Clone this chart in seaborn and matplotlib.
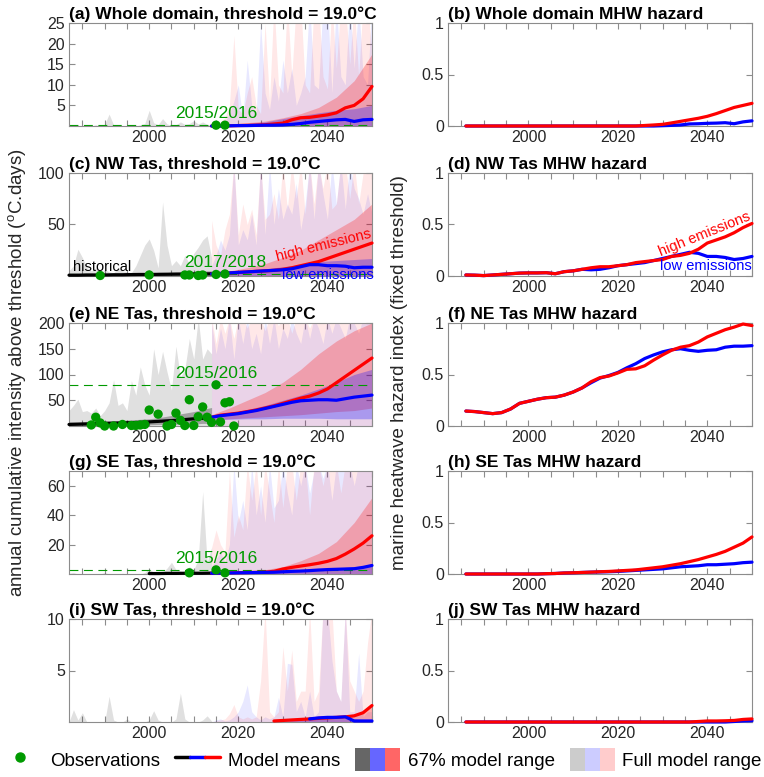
import numpy as np
import matplotlib
matplotlib.use("Agg")
import matplotlib.pyplot as plt
import seaborn as sns
from matplotlib.lines import Line2D
from matplotlib.patches import Patch
from matplotlib.legend_handler import HandlerTuple

sns.set_style("ticks")
plt.rcParams["font.family"] = ["Liberation Sans", "DejaVu Sans"]
plt.rcParams["mathtext.fontset"] = "custom"
plt.rcParams["mathtext.rm"] = "Liberation Sans"

nan = np.nan

# ---------------------------------------------------------
# year grids
# ---------------------------------------------------------
yr_hist = np.arange(1982, 2015)        # full range, historical (annual)
yr_hist2 = np.arange(1982, 2015, 2)    # historical mean / 67% band
yr_proj = np.arange(2014, 2051)        # full range, projections (annual)
yr_proj4 = np.arange(2014, 2051, 4)    # 67% bands, projections
yr_proj2 = np.arange(2014, 2051, 2)    # model means, projections
yr_haz = np.arange(1986, 2051, 2)      # hazard index

# ---------------------------------------------------------
# (a) Whole domain
# ---------------------------------------------------------
a_hist_full = [0, 0, 0, 0, 0, 0, 0.3, 0, 0.4, 2.9, 0.3, 0, 0, 0, 0.2, 0, 0.3, 0.6, 3.8, 0.8,
               0.3, 1.8, 0.5, 0.2, 0.3, 1.0, 0.4, 0.6, 1.3, 0.5, 1.0, 0.4, 0.3]
a_low_full = [0.3, 0.5, 1, 1, 3, 6, 10, 2, 16, 5, 3, 25, 8, 4, 12, 6, 16, 8, 14, 5,
              8, 12, 30, 10, 9, 30, 30, 8, 30, 12, 10, 30, 14, 30, 12, 10, 30]
a_high_full = [0.3, 0.5, 1, 2, 5, 22, 4, 3, 8, 12, 5, 3, 25, 6, 30, 10, 8, 30, 12, 30,
               30, 10, 8, 30, 30, 12, 9, 30, 14, 30, 30, 15, 30, 12, 30, 30, 18]
a_low67_hi = [0.3, 0.4, 0.6, 1, 1.8, 2.5, 3.2, 3.8, 4.2, 5]
a_high67_hi = [0.3, 0.5, 0.8, 1.2, 2, 3, 4.5, 7, 11, 17.5]
a_low_mean = [0, 0, 0.05, 0.1, 0.1, 0.15, 0.2, 0.2, 0.25, 0.4, 0.6, 0.9, 1.1, 1.3, 1.5, 1.6, 1.1, 1.5, 1.6]
a_high_mean = [0, 0, 0.05, 0.1, 0.15, 0.2, 0.3, 0.5, 0.7, 1.5, 2.0, 2.1, 2.4, 2.7, 3.2, 4.4, 5.0, 6.6, 9.6]
a_obs_yr = [2015, 2017]
a_obs = [0.2, 0.2]

# ---------------------------------------------------------
# (c) NW Tas
# ---------------------------------------------------------
c_hist_full = [5, 10, 26, 18, 8, 5, 8, 3, 6, 4, 3, 8, 5, 4, 3, 10, 20, 30, 36, 25,
               8, 72, 30, 10, 15, 10, 20, 12, 22, 28, 35, 39, 18]
c_hist67_hi = [1.5, 2, 2, 2, 2, 2.5, 2.5, 3, 3, 3, 3.5, 3.5, 4, 4, 4.5, 5, 5]
c_hist_mean = [0.8, 0.8, 1, 1, 1, 1.2, 1.2, 1.4, 1.5, 1.5, 1.6, 1.7, 1.8, 1.9, 2, 2, 2.1]
c_low_full = [10, 20, 35, 25, 40, 110, 30, 45, 35, 60, 30, 110, 40, 110, 50, 85, 55, 70, 60, 90,
              45, 70, 110, 55, 110, 80, 55, 110, 70, 110, 65, 110, 85, 75, 60, 80, 60]
c_high_full = [54, 30, 20, 45, 60, 110, 40, 70, 50, 65, 40, 110, 55, 60, 80, 55, 110, 65, 110, 75,
               110, 60, 110, 70, 110, 85, 110, 65, 70, 110, 110, 75, 110, 70, 100, 110, 110]
c_low67_hi = [3, 4, 5, 7, 9, 11, 14, 15, 16, 17]
c_high67_hi = [3, 5, 8, 12, 18, 25, 35, 45, 55, 70]
c_low_mean = [2, 2.5, 3, 3.5, 4, 4.5, 5, 5.5, 6, 7, 9, 11, 11, 10, 10, 9.5, 8, 8.5, 8.5]
c_high_mean = [2, 2.5, 3, 3.5, 4, 4.5, 5, 5.5, 6.5, 8, 10, 12, 14, 17, 20, 23, 26, 29, 32]
c_obs_yr = [1989, 2000, 2008, 2009, 2011, 2012, 2015, 2017]
c_obs = [0.5, 1, 1, 1, 0.5, 1, 1.5, 2]

# ---------------------------------------------------------
# (e) NE Tas
# ---------------------------------------------------------
e_hist_full = [30, 40, 52, 28, 30, 25, 35, 20, 30, 45, 90, 40, 45, 30, 88, 60, 115, 80, 60, 150,
               100, 145, 105, 70, 155, 95, 110, 170, 130, 210, 130, 150, 140]
e_hist67_lo = [1, 1, 1, 1, 1.5, 1.5, 2, 2, 2, 2.5, 3, 3, 3.5, 4, 4, 5, 5]
e_hist67_hi = [8, 8, 9, 9, 10, 10, 11, 12, 13, 14, 16, 19, 22, 25, 28, 32, 36]
e_hist_mean = [3, 3.5, 4, 4.5, 5, 5.5, 6, 6.5, 7, 8, 9, 10, 11, 12.5, 14, 15, 16.5]
e_low_full = [200, 140, 190, 150, 210, 130, 210, 160, 210, 150, 180, 140, 210, 160, 210, 150, 190, 170, 210, 180,
              160, 210, 170, 210, 190, 160, 210, 180, 210, 190, 170, 210, 200, 180, 210, 210, 210]
e_high_full = [210, 160, 210, 180, 210, 170, 210, 210, 190, 210, 200, 210, 185, 210, 210, 195, 210, 210, 180, 210,
               210, 210, 190, 210, 210, 210, 210, 200, 210, 210, 210, 210, 210, 210, 210, 210, 210]
e_low67_lo = [12, 13, 14, 14, 15, 15, 15, 14, 14, 14]
e_low67_hi = [20, 25, 32, 40, 50, 60, 72, 85, 100, 110]
e_high67_lo = [12, 14, 16, 18, 20, 22, 25, 28, 30, 35]
e_high67_hi = [22, 35, 50, 65, 85, 110, 140, 165, 185, 200]
e_low_mean = [17, 20, 22, 24, 27, 30, 34, 38, 42, 46, 49, 50, 51, 51, 50, 53, 56, 58, 60]
e_high_mean = [17, 21, 23, 25, 28, 31, 35, 39, 44, 49, 54, 58, 64, 72, 84, 96, 108, 120, 132]
e_obs_yr = [1987, 1988, 1989, 1990, 1992, 1994, 1996, 1997, 1998, 1999, 2000, 2002, 2004, 2005, 2006, 2007,
            2008, 2009, 2010, 2011, 2012, 2013, 2014, 2015, 2016, 2017, 2018, 2019]
e_obs = [2, 17, 6, 0, 0, 3, 1, 1, 2, 3, 31, 23, 0, 3, 25, 11,
         1, 51, 1, 18, 37, 17, 7, 80, 8, 45, 47, 0]

# ---------------------------------------------------------
# (g) SE Tas
# ---------------------------------------------------------
g_hist_full = [0.5, 1, 0, 0, 0, 0, 0, 0, 1, 0, 0, 0, 0.5, 0, 0, 0, 0, 1, 3.6, 1,
               0, 1, 4, 8, 3, 2, 1, 5, 3, 10, 56, 8, 18]
g_hist_mean = [nan, nan, nan, nan, nan, nan, nan, nan, nan, 0.3, 0.3, 0.4, 0.4, 0.5, 0.5, 0.5, 0.6]
g_low_full = [5, 10, 15, 8, 20, 75, 35, 50, 30, 75, 40, 60, 35, 75, 45, 50, 75, 55, 40, 75,
              60, 75, 55, 70, 75, 65, 75, 50, 75, 70, 75, 75, 60, 75, 75, 75, 75]
g_high_full = [18, 30, 20, 15, 70, 25, 40, 30, 75, 50, 75, 40, 75, 55, 35, 75, 45, 75, 75, 50,
               75, 75, 40, 75, 75, 60, 75, 75, 75, 55, 75, 75, 75, 75, 75, 75, 75]
g_low67_hi = [1, 1, 1.5, 2, 2.5, 3, 3.5, 4, 5, 6]
g_high67_hi = [1, 1.5, 2, 3, 5, 9, 14, 22, 35, 52]
g_low_mean = [0.5, 0.6, 0.7, 0.8, 0.9, 1, 1.1, 1.2, 1.5, 1.8, 2, 2.3, 2.7, 3, 3.2, 3.4, 3.6, 4.5, 5.8]
g_high_mean = [0.5, 0.6, 0.8, 0.9, 1, 1.1, 1.3, 1.8, 3.4, 4.5, 5.4, 6.3, 7.3, 8.6, 10.5, 13.5, 17, 21, 26]
g_obs_yr = [2009, 2015, 2017]
g_obs = [0.8, 2.8, 0.8]

# ---------------------------------------------------------
# (i) SW Tas
# ---------------------------------------------------------
i_hist_full = [0, 1.2, 0.2, 0.9, 0, 0, 0, 0, 0, 2.5, 0.2, 0, 0, 0.3, 0, 0, 0, 0, 0.2, 1.1,
               0.2, 0, 0, 0, 0.3, 2.8, 0.3, 0, 0, 0, 0.2, 0.6, 0.1]
i_low_full = [0, 0.2, 0.3, 0.1, 0.2, 0.5, 1, 2, 3.6, 1, 0.5, 0.2, 0.5, 0.3, 0.5, 2.4, 0.5, 5.7, 5.6, 1,
              2, 0.5, 3, 0.5, 1, 11, 11, 6, 3, 2, 11, 1, 1, 6.7, 0.5, 1, 1]
i_high_full = [0, 0.1, 0.2, 0.3, 0.8, 1.7, 0.5, 0.3, 0.5, 0.3, 0.5, 4, 11, 1, 0.5, 1, 7.3, 3, 7, 2,
               3, 3, 11, 2, 3, 11, 11, 11, 3, 2, 11, 4, 3, 2, 3, 7.7, 11]
i_low67_hi = [0, 0, 0, 0, 0.1, 0.2, 0.3, 0.4, 0.3, 0.2]
i_high67_hi = [0, 0, 0, 0, 0.1, 0.2, 0.3, 0.4, 0.6, 1.5]
i_low_mean = [nan, nan, nan, nan, nan, nan, nan, nan, nan, nan, nan, 0.3, 0.4, 0.45, 0.45, 0.5, 0.1, 0.1, 0.1]
i_high_mean = [nan, nan, nan, nan, nan, nan, nan, 0.1, 0.15, 0.2, 0.25, 0.3, 0.35, 0.4, 0.45, 0.5, 0.6, 0.9, 1.6]

# ---------------------------------------------------------
# hazard index (right column), 1986-2050 every 2 years
# ---------------------------------------------------------
b_low = [0, 0, 0, 0, 0, 0, 0, 0, 0, 0, 0, 0, 0, 0, 0, 0, 0, 0, 0, 0,
         0, 0, 0.003, 0.006, 0.01, 0.02, 0.022, 0.026, 0.028, 0.032, 0.022, 0.04, 0.05]
b_high = [0, 0, 0, 0, 0, 0, 0, 0, 0, 0, 0, 0, 0, 0, 0, 0, 0, 0, 0, 0,
          0.005, 0.01, 0.016, 0.03, 0.045, 0.06, 0.075, 0.094, 0.12, 0.15, 0.18, 0.2, 0.22]
d_low = [0.01, 0.008, 0.004, 0.01, 0.016, 0.022, 0.028, 0.03, 0.03, 0.032, 0.022, 0.042, 0.05, 0.065,
         0.06, 0.065, 0.08, 0.1, 0.11, 0.12, 0.13, 0.15, 0.17, 0.19, 0.21, 0.23, 0.22, 0.19, 0.19,
         0.18, 0.16, 0.17, 0.19]
d_high = [0.01, 0.008, 0.004, 0.01, 0.016, 0.022, 0.028, 0.03, 0.03, 0.032, 0.022, 0.042, 0.05, 0.065,
          0.08, 0.09, 0.09, 0.1, 0.11, 0.13, 0.14, 0.15, 0.16, 0.19, 0.2, 0.22, 0.26, 0.32, 0.35,
          0.38, 0.42, 0.47, 0.51]
f_low = [0.145, 0.14, 0.13, 0.12, 0.13, 0.165, 0.22, 0.24, 0.26, 0.275, 0.28, 0.3, 0.33, 0.37,
         0.42, 0.465, 0.49, 0.52, 0.565, 0.605, 0.655, 0.69, 0.72, 0.74, 0.75, 0.735, 0.725, 0.735,
         0.74, 0.765, 0.775, 0.775, 0.78]
f_high = [0.145, 0.14, 0.13, 0.12, 0.13, 0.165, 0.22, 0.24, 0.26, 0.275, 0.28, 0.3, 0.33, 0.37,
          0.43, 0.47, 0.485, 0.515, 0.55, 0.555, 0.585, 0.64, 0.69, 0.735, 0.765, 0.78, 0.815, 0.865,
          0.9, 0.935, 0.96, 0.99, 0.975]
h_low = [0, 0, 0, 0, 0, 0, 0, 0, 0, 0.003, 0.005, 0.01, 0.012, 0.015, 0.018, 0.02, 0.022, 0.025,
         0.03, 0.035, 0.04, 0.045, 0.05, 0.06, 0.07, 0.075, 0.08, 0.09, 0.09, 0.095, 0.1, 0.11, 0.115]
h_high = [0, 0, 0, 0, 0, 0, 0, 0, 0, 0.003, 0.005, 0.01, 0.012, 0.015, 0.018, 0.022, 0.025, 0.03,
          0.035, 0.04, 0.05, 0.06, 0.07, 0.085, 0.1, 0.12, 0.14, 0.165, 0.19, 0.22, 0.26, 0.3, 0.36]
j_low = [0, 0, 0, 0, 0, 0, 0, 0, 0, 0, 0, 0, 0, 0, 0, 0, 0, 0, 0, 0,
         0, 0, 0, 0, 0, 0, 0, 0, 0, 0, 0.005, 0.01, 0.012]
j_high = [0, 0, 0, 0, 0, 0, 0, 0, 0, 0, 0, 0, 0, 0, 0, 0, 0, 0, 0, 0,
          0, 0, 0, 0, 0, 0, 0.005, 0.01, 0.01, 0.012, 0.015, 0.025, 0.03]

GREEN = "#009a00"
RED = "#ff0000"
BLUE = "#0000ff"
SPINE = "#8c8c8c"
TXT = "#262626"


def style_axes(ax, ymax, yticks, ylabels):
    ax.set_xlim(1982, 2050)
    ax.set_ylim(0, ymax)
    xt = np.arange(1985, 2051, 5)
    ax.set_xticks(xt)
    ax.set_xticklabels([str(y) if y in (2000, 2020, 2040) else "" for y in xt])
    ax.set_yticks(yticks)
    ax.set_yticklabels(ylabels)
    ax.tick_params(direction="in", length=4, width=0.8, top=True, right=True,
                   colors=SPINE, labelcolor=TXT, labelsize=11.5, pad=3)
    for s in ax.spines.values():
        s.set_visible(True)
        s.set_color(SPINE)
        s.set_linewidth(0.8)
    ax.set_xlabel("")
    ax.set_ylabel("")


def draw_left(ax, title, ymax, yticks, hist_full, low_full, high_full,
              low67_hi, high67_hi, low_mean, high_mean,
              hist67_lo=None, hist67_hi=None, hist_mean=None,
              low67_lo=0, high67_lo=0,
              obs_yr=None, obs=None, event=None):
    # full model range
    ax.fill_between(yr_hist, 0, hist_full, color="k", alpha=0.12, lw=0, zorder=1)
    ax.fill_between(yr_proj, 0, low_full, color=BLUE, alpha=0.09, lw=0, zorder=1)
    ax.fill_between(yr_proj, 0, high_full, color=RED, alpha=0.09, lw=0, zorder=1)
    # 67% model range
    if hist67_hi is not None:
        lo = 0 if hist67_lo is None else hist67_lo
        ax.fill_between(yr_hist2, lo, hist67_hi, color="k", alpha=0.28, lw=0, zorder=1.5)
    ax.fill_between(yr_proj4, high67_lo, high67_hi, color=RED, alpha=0.25, lw=0, zorder=1.5)
    ax.fill_between(yr_proj4, low67_lo, low67_hi, color=BLUE, alpha=0.27, lw=0, zorder=1.5)
    # observed event level
    if event is not None:
        ev_yr, ev_val, ev_lab = event
        ax.axhline(ev_val, color=GREEN, lw=0.8, ls=(0, (8, 5)), zorder=2)
        ax.annotate(ev_lab, (ev_yr, ev_val), xytext=(0, 3), textcoords="offset points",
                    ha="center", va="bottom", color=GREEN, fontsize=12.5, zorder=6)
    # model means
    if hist_mean is not None:
        sns.lineplot(x=yr_hist2, y=hist_mean, ax=ax, color="k", lw=2.3, zorder=3, clip_on=False)
    sns.lineplot(x=yr_proj2, y=high_mean, ax=ax, color=RED, lw=2.3, zorder=3, clip_on=False)
    sns.lineplot(x=yr_proj2, y=low_mean, ax=ax, color=BLUE, lw=2.3, zorder=3.2, clip_on=False)
    if obs_yr is not None:
        sns.scatterplot(x=obs_yr, y=obs, ax=ax, color=GREEN, s=45, edgecolor="none",
                        zorder=5, clip_on=False)
    ax.set_title(title, loc="left", fontweight="bold", fontsize=12.5, pad=3, color="k")
    style_axes(ax, ymax, yticks, [str(t) for t in yticks])


def draw_right(ax, title, low, high):
    sns.lineplot(x=yr_haz, y=low, ax=ax, color=BLUE, lw=2.3, zorder=3, clip_on=False)
    sns.lineplot(x=yr_haz, y=high, ax=ax, color=RED, lw=2.3, zorder=3.2, clip_on=False)
    ax.set_title(title, loc="left", fontweight="bold", fontsize=12.5, pad=3, color="k")
    style_axes(ax, 1, [0, 0.5, 1], ["0", "0.5", "1"])


W, H = 764, 777
fig = plt.figure(figsize=(W / 100, H / 100), dpi=100)
tops = [23, 173, 323, 471, 619]
ax_h = 103


def make_ax(left, width, top):
    return fig.add_axes([left / W, 1 - (top + ax_h) / H, width / W, ax_h / H])


axL = [make_ax(69, 303, t) for t in tops]
axR = [make_ax(448, 304, t) for t in tops]

draw_left(axL[0], "(a) Whole domain, threshold = 19.0°C", 25, [5, 10, 15, 20, 25],
          a_hist_full, a_low_full, a_high_full, a_low67_hi, a_high67_hi, a_low_mean, a_high_mean,
          obs_yr=a_obs_yr, obs=a_obs, event=(2015, 0.25, "2015/2016"))
draw_left(axL[1], "(c) NW Tas, threshold = 19.0°C", 100, [50, 100],
          c_hist_full, c_low_full, c_high_full, c_low67_hi, c_high67_hi, c_low_mean, c_high_mean,
          hist67_hi=c_hist67_hi, hist_mean=c_hist_mean,
          obs_yr=c_obs_yr, obs=c_obs, event=(2017, 2, "2017/2018"))
draw_left(axL[2], "(e) NE Tas, threshold = 19.0°C", 200, [50, 100, 150, 200],
          e_hist_full, e_low_full, e_high_full, e_low67_hi, e_high67_hi, e_low_mean, e_high_mean,
          hist67_lo=e_hist67_lo, hist67_hi=e_hist67_hi, hist_mean=e_hist_mean,
          low67_lo=e_low67_lo, high67_lo=e_high67_lo,
          obs_yr=e_obs_yr, obs=e_obs, event=(2015, 80, "2015/2016"))
draw_left(axL[3], "(g) SE Tas, threshold = 19.0°C", 70, [20, 40, 60],
          g_hist_full, g_low_full, g_high_full, g_low67_hi, g_high67_hi, g_low_mean, g_high_mean,
          hist_mean=g_hist_mean,
          obs_yr=g_obs_yr, obs=g_obs, event=(2015, 2.8, "2015/2016"))
draw_left(axL[4], "(i) SW Tas, threshold = 19.0°C", 10, [5, 10],
          i_hist_full, i_low_full, i_high_full, i_low67_hi, i_high67_hi, i_low_mean, i_high_mean)

draw_right(axR[0], "(b) Whole domain MHW hazard", b_low, b_high)
draw_right(axR[1], "(d) NW Tas MHW hazard", d_low, d_high)
draw_right(axR[2], "(f) NE Tas MHW hazard", f_low, f_high)
draw_right(axR[3], "(h) SE Tas MHW hazard", h_low, h_high)
draw_right(axR[4], "(j) SW Tas MHW hazard", j_low, j_high)

# scenario / period labels
axL[1].text(1983, 4.5, "historical", color="k", fontsize=10.5, ha="left", va="baseline", zorder=6)
axL[1].text(2039.2, 29.5, "high emissions", color=RED, fontsize=10.5, rotation=14,
            ha="center", va="center", zorder=6)
axL[1].text(2040, 1.3, "low emissions", color=BLUE, fontsize=10.5, ha="center", va="center", zorder=6)
axR[1].text(2039.3, 0.41, "high emissions", color=RED, fontsize=10.5, rotation=22,
            ha="center", va="center", zorder=6)
axR[1].text(2039.6, 0.10, "low emissions", color=BLUE, fontsize=10.5, ha="center", va="center", zorder=6)

# shared axis labels
fig.text(18 / W, 0.52, "annual cumulative intensity above threshold ($^{\\rm o}$C.days)",
         rotation=90, ha="center", va="center", fontsize=13.5, color=TXT)
fig.text(400 / W, 0.52, "marine heatwave hazard index (fixed threshold)",
         rotation=90, ha="center", va="center", fontsize=13.5, color=TXT)

# legend
handles = [
    Line2D([], [], marker="o", ls="", color=GREEN, markersize=6.5),
    (Line2D([], [], color="k", lw=2.5), Line2D([], [], color=BLUE, lw=2.5), Line2D([], [], color=RED, lw=2.5)),
    (Patch(facecolor="#666666", edgecolor="none"), Patch(facecolor="#6666ff", edgecolor="none"),
     Patch(facecolor="#ff6666", edgecolor="none")),
    (Patch(facecolor="#cccccc", edgecolor="none"), Patch(facecolor="#ccccff", edgecolor="none"),
     Patch(facecolor="#ffcccc", edgecolor="none")),
]
labels = ["Observations", "Model means", "67% model range", "Full model range"]
fig.legend(handles, labels, loc="lower center", bbox_to_anchor=(0.497, 0.0), ncol=4, frameon=False,
           fontsize=13.5, handler_map={tuple: HandlerTuple(ndivide=None, pad=0)},
           handlelength=2.4, handleheight=1.55, columnspacing=0.8, handletextpad=0.4,
           borderaxespad=0.1, borderpad=0.2, labelcolor="k")

fig.savefig("out.png", dpi=100)
